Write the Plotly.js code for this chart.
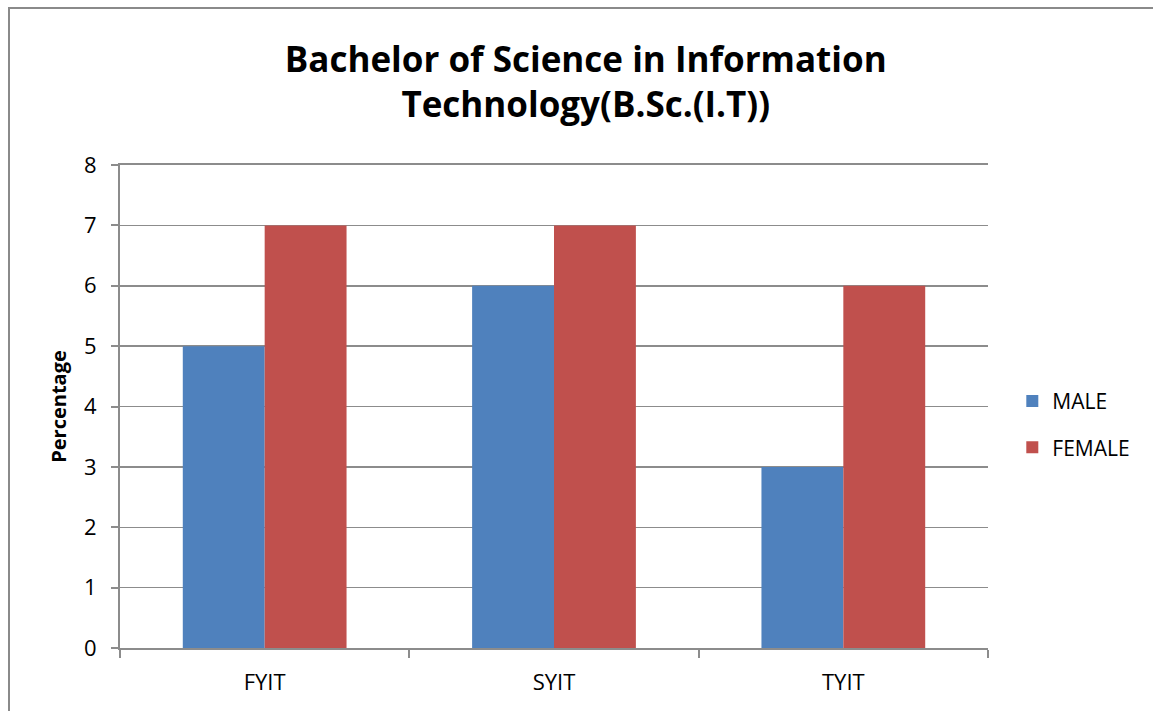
<!DOCTYPE html>
<html><head><meta charset="utf-8">
<script src="https://cdn.plot.ly/plotly-3.0.1.min.js"></script>
<style>
html,body{margin:0;padding:0;background:#fff;}
#frame{position:absolute;left:8px;top:7px;width:1200px;height:760px;border-left:2px solid #8a8a8a;border-top:2px solid #8a8a8a;pointer-events:none;z-index:5;}
#chart{width:1153px;height:711px;}
</style>
</head><body>
<div id="frame"></div>
<div id="chart"></div>
<script>
const categories = ["FYIT", "SYIT", "TYIT"];
const maleValues = [5, 6, 3];
const femaleValues = [7, 7, 6];
const seriesNames = ["MALE", "FEMALE"];
const yTicks = [0, 1, 2, 3, 4, 5, 6, 7, 8];

const font = "Open Sans, Liberation Sans, sans-serif";
const data = [
  {type:"bar", name:seriesNames[0], legendgroup:"m", x:categories, y:maleValues, marker:{color:"#4f81bd"}},
  {type:"bar", name:seriesNames[1], legendgroup:"f", x:categories, y:femaleValues, marker:{color:"#c0504d"}}
];
const layout = {
  width:1153, height:711,
  margin:{l:120, r:165, t:165, b:63},
  paper_bgcolor:"#fff", plot_bgcolor:"#fff",
  barmode:"group", bargap:0.434, bargroupgap:0,
  font:{family:font, color:"#000", size:22},
  title:{text:"<b>Bachelor of Science in Information<br>Technology(B.Sc.(I.T))</b>", font:{family:font, size:35, color:"#000"}, x:0.508, xanchor:"center", y:0.899, yanchor:"middle"},
  xaxis:{type:"category", showline:true, mirror:true, linecolor:"#8c8c8c", linewidth:2, ticks:"outside", tickson:"boundaries", ticklen:8, tickcolor:"#8c8c8c", tickwidth:2, tickfont:{size:22, family:font}, ticklabelstandoff:14, showgrid:false},
  yaxis:{range:[0,8], tickvals:yTicks, showline:true, linecolor:"#8c8c8c", linewidth:2, ticks:"outside", ticklen:7, tickcolor:"#8c8c8c", tickwidth:2, gridcolor:"#8c8c8c", gridwidth:1.5, zeroline:false, tickfont:{size:22, family:font}, ticklabelstandoff:10,
    title:{text:"<b>Percentage</b>", font:{size:20, family:font}, standoff:12}},
  legend:{x:1.028, xanchor:"left", y:0.463, yanchor:"middle", font:{size:21, family:font}, traceorder:"grouped", tracegroupgap:16},
  showlegend:true
};
Plotly.newPlot("chart", data, layout, {displayModeBar:false, staticPlot:true});
</script>
</body></html>
